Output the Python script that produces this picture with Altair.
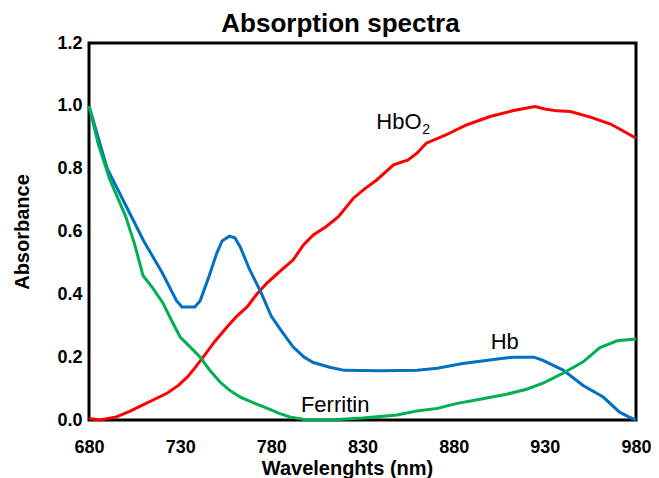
import altair as alt
import pandas as pd

hb_x = [680, 690, 700, 710, 720, 728, 731, 738, 741, 746, 750, 753, 757, 760, 763, 768, 774, 780, 786, 792, 798, 803, 812, 820, 840, 860, 871, 885, 904, 913, 924, 929, 940, 951, 962, 971, 976, 980]
hb_y = [1.0, 0.80, 0.685, 0.57, 0.47, 0.38, 0.36, 0.36, 0.38, 0.46, 0.53, 0.57, 0.585, 0.58, 0.55, 0.48, 0.41, 0.33, 0.28, 0.232, 0.20, 0.183, 0.168, 0.158, 0.157, 0.158, 0.165, 0.18, 0.194, 0.20, 0.20, 0.19, 0.159, 0.11, 0.073, 0.025, 0.01, 0.0]

fe_x = [680, 685, 691.5, 700, 705, 709.6, 715, 720.6, 725, 730, 735, 741, 746, 752, 757, 763, 770, 777.6, 784, 790, 799.6, 812, 830, 849, 860, 871, 882, 894.5, 909, 920, 929, 940, 951, 960, 969.6, 980]
fe_y = [1.0, 0.88, 0.764, 0.65, 0.56, 0.46, 0.42, 0.372, 0.32, 0.264, 0.235, 0.20, 0.16, 0.12, 0.095, 0.073, 0.055, 0.038, 0.022, 0.01, 0.0, 0.0, 0.006, 0.016, 0.029, 0.037, 0.053, 0.066, 0.082, 0.098, 0.117, 0.149, 0.185, 0.23, 0.252, 0.258]

ox_x = [680, 686, 695, 702, 709.6, 716, 723, 729, 734, 738, 742.6, 749, 755.7, 761, 766.7, 772, 777.6, 785, 792, 797.6, 803, 810, 816.8, 825, 831, 837.8, 847, 855, 860, 865, 876, 887, 900, 912.8, 924.6, 930, 936.6, 944, 955, 966, 973, 980]
ox_y = [0.005, 0.0, 0.01, 0.027, 0.048, 0.066, 0.086, 0.11, 0.137, 0.165, 0.20, 0.25, 0.296, 0.33, 0.36, 0.40, 0.436, 0.475, 0.51, 0.557, 0.589, 0.615, 0.647, 0.706, 0.735, 0.764, 0.812, 0.828, 0.85, 0.881, 0.908, 0.939, 0.966, 0.985, 0.998, 0.99, 0.984, 0.982, 0.964, 0.942, 0.92, 0.897]

series_names = ["HbO2", "Hb", "Ferritin"]
series_colors = ["#FF0000", "#0070C0", "#00B050"]

x_ticks = [680, 730, 780, 830, 880, 930, 980]
y_ticks = [0.0, 0.2, 0.4, 0.6, 0.8, 1.0, 1.2]

label_text = ["HbO", "Hb", "Ferritin"]
label_x = [850, 908, 815]
label_y = [0.947, 0.248, 0.048]
sub_text = ["2"]
sub_x = [864.9]
sub_y = [0.922]

rows = []
for name, xs, ys in [("HbO2", ox_x, ox_y), ("Hb", hb_x, hb_y), ("Ferritin", fe_x, fe_y)]:
    for i, (a, b) in enumerate(zip(xs, ys)):
        rows.append({"series": name, "wl": a, "abs": b, "order": i})
df = pd.DataFrame(rows)
labels = pd.DataFrame({"t": label_text, "wl": label_x, "abs": label_y})
subs = pd.DataFrame({"t": sub_text, "wl": sub_x, "abs": sub_y})

FONT = "Liberation Sans"
xs = alt.Scale(domain=[680, 980], nice=False, zero=False)
ys = alt.Scale(domain=[0, 1.2], nice=False)

lines = alt.Chart(df).mark_line(strokeWidth=3).encode(
    x=alt.X("wl:Q", scale=xs, axis=alt.Axis(values=x_ticks, title="Wavelenghts (nm)", format="d", titleX=258, labelFlush=False)),
    y=alt.Y("abs:Q", scale=ys, axis=alt.Axis(values=y_ticks, title="Absorbance", format=".1f", labelFlush=False)),
    color=alt.Color("series:N", scale=alt.Scale(domain=series_names, range=series_colors), legend=None),
    order="order:Q",
)

txt = alt.Chart(labels).mark_text(font=FONT, fontSize=22, color="#000000").encode(
    x=alt.X("wl:Q", scale=xs), y=alt.Y("abs:Q", scale=ys), text="t:N"
)
sub = alt.Chart(subs).mark_text(font=FONT, fontSize=14, color="#000000").encode(
    x=alt.X("wl:Q", scale=xs), y=alt.Y("abs:Q", scale=ys), text="t:N"
)

chart = alt.layer(lines, txt, sub).properties(
    width=547, height=377,
    autosize=alt.AutoSizeParams(type="none"),
    padding={"left": 81, "top": 35, "right": 15, "bottom": 62},
    title=alt.TitleParams("Absorption spectra", font=FONT, fontSize=26, fontWeight="bold", color="#000000", dx=-22, dy=3, offset=0),
).configure_view(
    stroke="#000000", strokeWidth=3
).configure_axis(
    domain=False, ticks=False, grid=False,
    labelFont=FONT, labelFontSize=18, labelFontWeight="bold", labelColor="#000000",
    titleFont=FONT, titleFontSize=20, titleFontWeight="bold", titleColor="#000000",
).configure_axisY(
    labelPadding=7, titlePadding=24
).configure_axisX(
    labelPadding=18, titlePadding=2
)

chart.save("out.html", embed_options={"renderer": "svg", "actions": False})
